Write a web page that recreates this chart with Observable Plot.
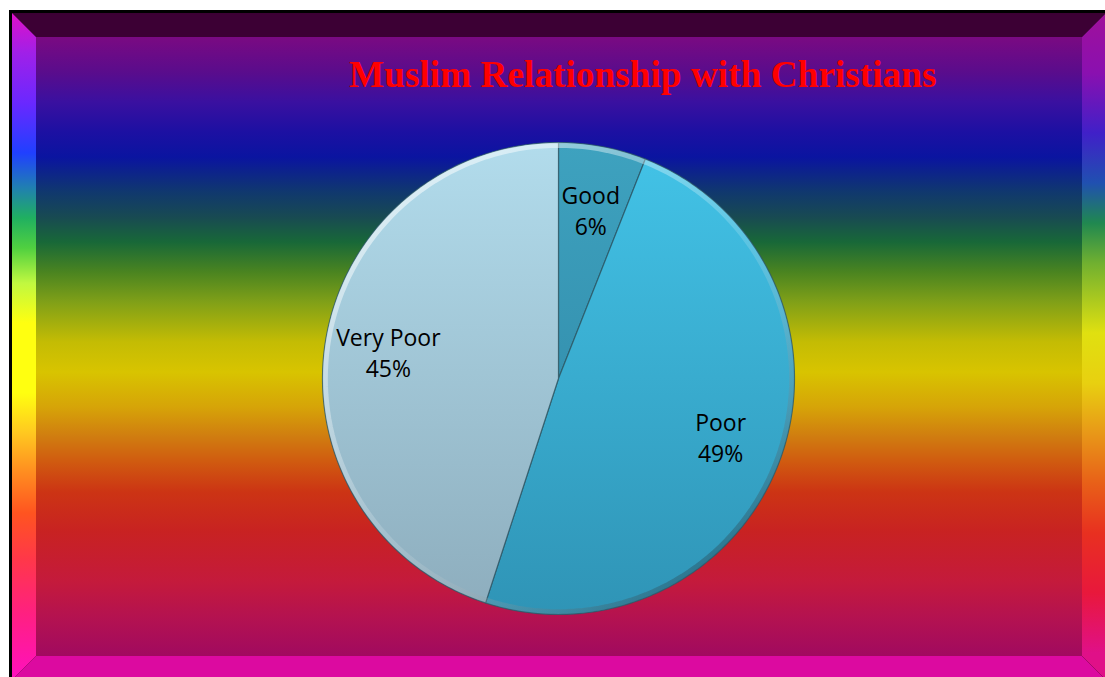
<!DOCTYPE html>
<html>
<head>
<meta charset="utf-8">
<script src="https://cdn.jsdelivr.net/npm/d3@7"></script>
<script src="https://cdn.jsdelivr.net/npm/@observablehq/plot@0.6"></script>
<style>
  html, body { margin: 0; padding: 0; background: #ffffff; }
  #page { position: relative; width: 1105px; height: 677px; overflow: hidden; background: #fff; }
  #border { position: absolute; left: 9px; top: 10px; width: 1110px; height: 680px; background: #000; }
  #frame { position: absolute; left: 12px; top: 13px; width: 1094px; height: 667px; }
  .bev { position: absolute; left: 0; top: 0; width: 100%; height: 100%; }
  #inner { position: absolute; left: 24px; top: 24px; right: 24px; bottom: 24px;
    background: linear-gradient(to bottom,
      #7a0a82 0px, #5a0c8c 35px, #3a10a0 65px, #1c10a2 95px, #0a14a0 120px,
      #10386e 155px, #184a52 180px, #186838 205px, #4a8420 235px, #80a018 265px,
      #c4bc04 305px, #d8c400 335px, #d6a408 370px, #d07c10 400px, #d05a10 425px,
      #cc3414 455px, #c82222 495px, #c41a3c 545px, #b41250 580px, #a00a60 620px); }
  #title { position: absolute; left: 349px; top: 56px; font-family: "Liberation Serif", "Times New Roman", serif;
    font-weight: bold; font-size: 37.3px; line-height: 37px; color: #ff0000; white-space: nowrap; }
  #chart { position: absolute; left: 318px; top: 138px; }
</style>
</head>
<body>
<div id="page">
  <div id="border"></div>
  <div id="frame">
    <div class="bev" style="background:#3c0034; clip-path: polygon(0 0, 100% 0, calc(100% - 24px) 24px, 24px 24px);"></div>
    <div class="bev" style="background:#dc0aa0; clip-path: polygon(0 100%, 24px calc(100% - 24px), calc(100% - 24px) calc(100% - 24px), 100% 100%);"></div>
    <div class="bev" style="background: linear-gradient(to bottom, #e010c8 0px, #a020e8 40px, #6a28ff 90px, #2040ff 140px, #2080b0 175px, #20b060 205px, #50d040 235px, #c0f840 270px, #ffff10 310px, #ffff10 380px, #ffc820 420px, #ff8c20 460px, #ff5420 500px, #ff3848 545px, #ff2080 600px, #ff10c0 667px); clip-path: polygon(0 0, 24px 24px, 24px calc(100% - 24px), 0 100%);"></div>
    <div class="bev" style="background: linear-gradient(to bottom, #a0109a 0px, #8a10b0 60px, #4020c8 120px, #2050b0 170px, #208850 210px, #70b030 250px, #e0e010 320px, #e8d010 370px, #e89818 420px, #e86018 470px, #e83020 520px, #e8183c 580px, #e01088 640px); clip-path: polygon(100% 0, 100% 100%, calc(100% - 24px) calc(100% - 24px), calc(100% - 24px) 24px);"></div>
    <div id="inner"></div>
  </div>
  <div id="title">Muslim Relationship with Christians</div>
  <div id="chart"></div>
</div>
<script>
// ---- data ----
const categories = ["Good", "Poor", "Very Poor"];
const percents = [6, 49, 45];

// ---- styles ----
const sliceTop = ["#3ea2bf", "#42c2e6", "#b2dcec"];
const sliceBottom = ["#3592b0", "#2f94b6", "#8eaebe"];

const pie = d3.pie().sort(null).value(d => d)(percents);

const slices = pie.map((a, i) => {
  const pts = [{x: 0, y: 0}];
  const n = Math.max(4, Math.ceil((a.endAngle - a.startAngle) / (Math.PI / 180)));
  for (let k = 0; k <= n; k++) {
    const t = a.startAngle + (a.endAngle - a.startAngle) * k / n;
    pts.push({x: Math.sin(t), y: Math.cos(t)});
  }
  pts.push({x: 0, y: 0});
  return {i, pts};
});

const rim = d3.range(0, 361, 2).map(d => {
  const t = d * Math.PI / 180;
  return {x: 0.988 * Math.sin(t), y: 0.988 * Math.cos(t)};
});

const labelData = pie.map((a, i) => {
  const m = (a.startAngle + a.endAngle) / 2;
  return {x: 0.73 * Math.sin(m), y: 0.73 * Math.cos(m), text: `${categories[i]}\n${percents[i]}%`};
});

const defs = () => {
  const d = d3.create("svg:defs");
  sliceTop.forEach((c, i) => {
    const g = d.append("linearGradient").attr("id", "sg" + i).attr("x1", 0).attr("y1", 0).attr("x2", 0).attr("y2", 1);
    g.append("stop").attr("offset", "0%").attr("stop-color", c);
    g.append("stop").attr("offset", "100%").attr("stop-color", sliceBottom[i]);
  });
  const r = d.append("linearGradient").attr("id", "rimg").attr("x1", 0.15).attr("y1", 0.1).attr("x2", 0.85).attr("y2", 0.95);
  r.append("stop").attr("offset", "0%").attr("stop-color", "#ffffff").attr("stop-opacity", 0.55);
  r.append("stop").attr("offset", "50%").attr("stop-color", "#ffffff").attr("stop-opacity", 0.15);
  r.append("stop").attr("offset", "100%").attr("stop-color", "#0a3040").attr("stop-opacity", 0.45);
  return d.node();
};

const chart = Plot.plot({
  width: 480,
  height: 480,
  margin: 0,
  x: {domain: [-1.017, 1.017], axis: null},
  y: {domain: [-1.017, 1.017], axis: null},
  style: {background: "transparent", overflow: "visible"},
  marks: [
    defs,
    ...slices.map(s => Plot.line(s.pts, {x: "x", y: "y", fill: `url(#sg${s.i})`, stroke: "#2c5866", strokeWidth: 1.2, strokeOpacity: 0.8})),
    Plot.line(rim, {x: "x", y: "y", stroke: "url(#rimg)", strokeWidth: 5}),
    Plot.text(labelData, {x: "x", y: "y", text: "text", fontSize: 23, fontFamily: "Open Sans, Noto Sans, sans-serif", lineHeight: 1.35, fill: "#000"})
  ]
});
document.getElementById("chart").appendChild(chart);
</script>
</body>
</html>
